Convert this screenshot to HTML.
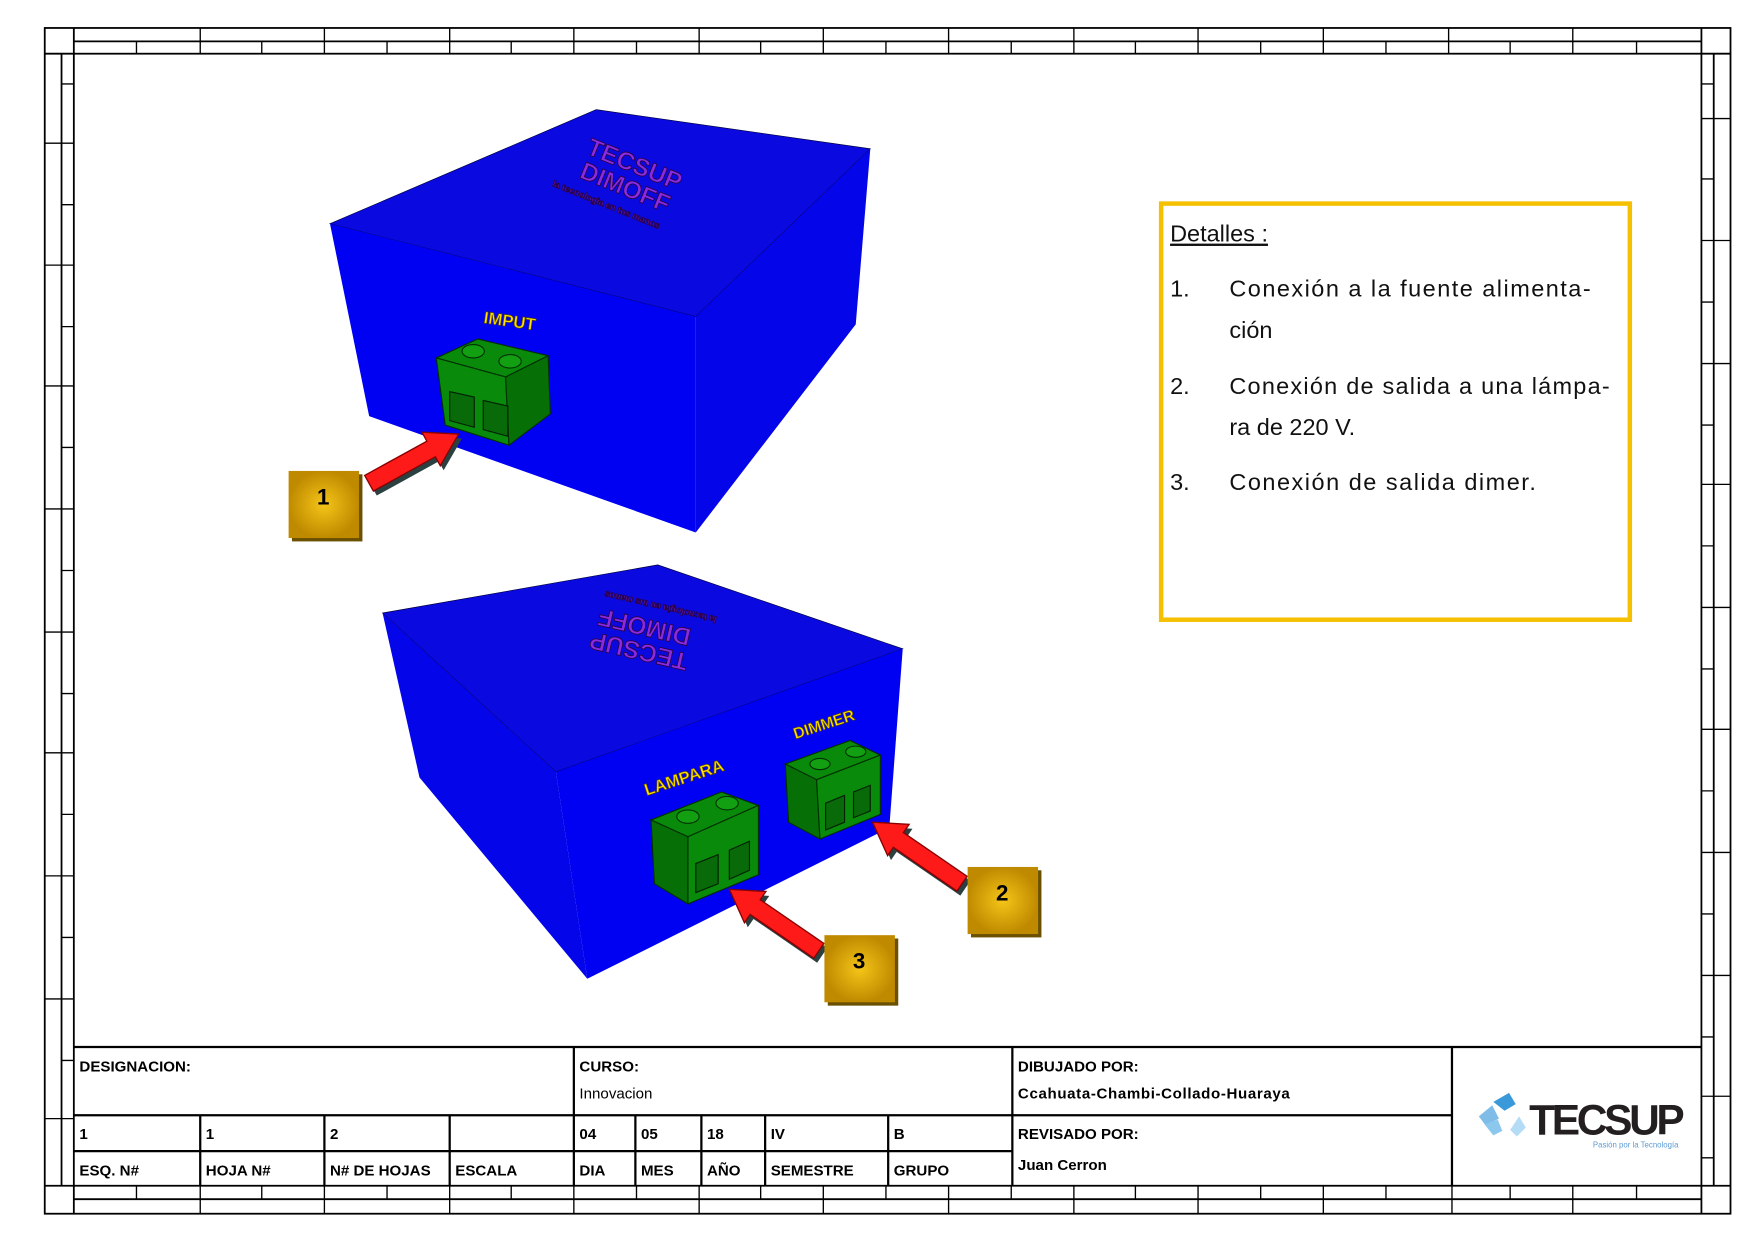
<!DOCTYPE html>
<html><head><meta charset="utf-8"><style>
html,body{margin:0;padding:0;background:#fff;}
svg{display:block;}
text{font-family:"Liberation Sans",sans-serif;}
</style></head><body>
<svg width="1754" height="1240" viewBox="0 0 1568 1108.5" preserveAspectRatio="none" xmlns="http://www.w3.org/2000/svg">
<rect width="1568" height="1108.5" fill="#fff"/>
<g stroke="#000" stroke-width="1.6" fill="none">
<rect x="40" y="25" width="1507" height="1060"/>
<rect x="66" y="48" width="1455" height="1012"/>
<line x1="66" y1="37" x2="1521" y2="37"/>
<line x1="66" y1="1072" x2="1521" y2="1072"/>
<line x1="55" y1="48" x2="55" y2="1060"/>
<line x1="1532" y1="48" x2="1532" y2="1060"/>
<line x1="66" y1="25" x2="66" y2="48"/><line x1="1521" y1="25" x2="1521" y2="48"/>
<line x1="66" y1="1060" x2="66" y2="1085"/><line x1="1521" y1="1060" x2="1521" y2="1085"/>
<line x1="40" y1="48" x2="66" y2="48"/><line x1="1521" y1="48" x2="1547" y2="48"/>
<line x1="40" y1="1060" x2="66" y2="1060"/><line x1="1521" y1="1060" x2="1547" y2="1060"/>
</g>
<g stroke="#000" stroke-width="1.2">
<path d="M179 25V48M290 25V48M402 25V48M513 25V48M625 25V48M736 25V48M848 25V48M960 25V48M1071 25V48M1183 25V48M1295 25V48M1406 25V48
M122 37V48M234 37V48M346 37V48M457 37V48M569 37V48M680 37V48M792 37V48M904 37V48M1015 37V48M1127 37V48M1239 37V48M1350 37V48M1463 37V48"/>
<path d="M179 1060V1085M290 1060V1085M402 1060V1085M513 1060V1085M625 1060V1085M736 1060V1085M848 1060V1085M960 1060V1085M1071 1060V1085M1183 1060V1085M1298 1060V1085M1406 1060V1085
M122 1060V1072M234 1060V1072M346 1060V1072M457 1060V1072M569 1060V1072M680 1060V1072M792 1060V1072M904 1060V1072M1015 1060V1072M1127 1060V1072M1239 1060V1072M1350 1060V1072M1463 1060V1072"/>
<path d="M55 75H66M40 128H66M55 183H66M40 237H66M55 292H66M40 345H66M55 400H66M40 455H66M55 510H66M40 565H66M55 620H66M40 673H66M55 728H66M40 783H66M55 838H66M40 893H66M55 948H66M40 1000H66"/>
<path d="M1521 75H1532M1521 106H1547M1521 160H1532M1521 215H1547M1521 270H1532M1521 325H1547M1521 380H1532M1521 433H1547M1521 488H1532M1521 543H1547M1521 598H1532M1521 652H1547M1521 707H1532M1521 762H1547M1521 817H1532M1521 872H1547M1521 927H1532M1521 980H1547M1521 1035H1532"/>
</g>
<g stroke="#000" stroke-width="2" fill="none">
<line x1="66" y1="936" x2="1521" y2="936"/>
<line x1="66" y1="997" x2="1298" y2="997"/>
<line x1="66" y1="1029" x2="905" y2="1029"/>
<line x1="513" y1="936" x2="513" y2="1060"/>
<line x1="905" y1="936" x2="905" y2="1060"/>
<line x1="1298" y1="936" x2="1298" y2="1060"/>
<path d="M179 997V1060M290 997V1060M402 997V1060M568 997V1060M627 997V1060M684 997V1060M794 997V1060"/>
</g>
<g font-size="13.5" font-weight="bold" fill="#000">
<text x="71" y="958">DESIGNACION:</text>
<text x="518" y="958">CURSO:</text>
<text x="518" y="982" font-weight="normal">Innovacion</text>
<text x="910" y="958">DIBUJADO POR:</text>
<text x="910" y="982" textLength="243">Ccahuata-Chambi-Collado-Huaraya</text>
<text x="910" y="1018">REVISADO POR:</text>
<text x="910" y="1046">Juan  Cerron</text>
<text x="71" y="1018">1</text><text x="184" y="1018">1</text><text x="295" y="1018">2</text>
<text x="518" y="1018">04</text><text x="573" y="1018">05</text><text x="632" y="1018">18</text><text x="689" y="1018">IV</text><text x="799" y="1018">B</text>
<text x="71" y="1051">ESQ. N#</text><text x="184" y="1051">HOJA N#</text><text x="295" y="1051">N# DE HOJAS</text><text x="407" y="1051">ESCALA</text>
<text x="518" y="1051">DIA</text><text x="573" y="1051">MES</text><text x="632" y="1051">AÑO</text><text x="689" y="1051">SEMESTRE</text><text x="799" y="1051">GRUPO</text>
</g>
<g>
<path d="M1335 985l14-8 6 10-10 6z" fill="#3a9ad9"/>
<path d="M1322 998l12-10 6 12-12 6z" fill="#7fbde8"/>
<path d="M1335 1015l-8-10 12-4 4 10z" fill="#8cc8ee"/>
<path d="M1350 1010l8-12 6 10-8 8z" fill="#b5dcf5"/>
<text x="1367" y="1014" font-size="38" font-weight="bold" fill="#231f20" letter-spacing="-3">TECSUP</text>
<text x="1424" y="1026" font-size="7" fill="#5a9bd4">Pasión por la Tecnología</text>
</g>
<!-- top box -->
<polygon points="295,200 533,98 778,133 622,283" fill="#0a0ae0" stroke="#000040" stroke-width="0.6"/>
<polygon points="295,200 622,283 622,476 330,372" fill="#0000f2"/>
<polygon points="622,283 778,133 765,290 622,476" fill="#0505ea"/>
<g transform="translate(560,165) rotate(22)" fill="#8a2be2" stroke="#2a004a" stroke-width="0.8" font-weight="bold" text-anchor="middle">
<text x="0" y="-12" font-size="22">TECSUP</text>
<text x="0" y="10" font-size="22">DIMOFF</text>
<text x="-10" y="26" font-size="8">la tecnologia en tus manos</text>
</g>
<text x="455" y="292" transform="rotate(8 455 292)" font-size="15" font-weight="bold" fill="#ffe000" stroke="#5a4a00" stroke-width="0.6" text-anchor="middle">IMPUT</text>
<polygon points="390,320 427,303 490,318 452,337" fill="#0a8a0a" stroke="#003000"/>
<polygon points="390,320 452,337 455,398 398,380" fill="#0a8a0a" stroke="#003000"/>
<polygon points="452,337 490,318 492,370 455,398" fill="#067006" stroke="#003000"/>
<ellipse cx="423" cy="314" rx="10" ry="6" fill="#12a012" stroke="#003000"/>
<ellipse cx="456" cy="323" rx="10" ry="6" fill="#12a012" stroke="#003000"/>
<polygon points="402,350 424,355 424,382 402,376" fill="#086a08" stroke="#002000"/>
<polygon points="432,358 454,363 454,390 432,384" fill="#086a08" stroke="#002000"/>
<!-- bottom box -->
<polygon points="342,548 588,505 807,580 497,690" fill="#0a0ae0" stroke="#000040" stroke-width="0.6"/>
<polygon points="342,548 497,690 525,875 375,695" fill="#0505ea"/>
<polygon points="497,690 807,580 795,740 525,875" fill="#0000f2"/>
<g transform="translate(575,565) rotate(193)" fill="#8a2be2" stroke="#2a004a" stroke-width="0.8" font-weight="bold" text-anchor="middle">
<text x="0" y="-10" font-size="22">TECSUP</text>
<text x="0" y="12" font-size="22">DIMOFF</text>
<text x="-10" y="28" font-size="8">la tecnologia en tus manos</text>
</g>
<text x="613" y="700" transform="rotate(-18 613 700)" font-size="15" font-weight="bold" fill="#ffe000" stroke="#5a4a00" stroke-width="0.6" text-anchor="middle">LAMPARA</text>
<text x="738" y="652" transform="rotate(-18 738 652)" font-size="14" font-weight="bold" fill="#ffe000" stroke="#5a4a00" stroke-width="0.6" text-anchor="middle">DIMMER</text>
<polygon points="582,733 645,708 678,720 615,748" fill="#0a8a0a" stroke="#003000"/>
<polygon points="582,733 615,748 615,808 585,790" fill="#067006" stroke="#003000"/>
<polygon points="615,748 678,720 678,782 615,808" fill="#0a8a0a" stroke="#003000"/>
<ellipse cx="615" cy="730" rx="10" ry="6" fill="#12a012" stroke="#003000"/>
<ellipse cx="650" cy="718" rx="10" ry="6" fill="#12a012" stroke="#003000"/>
<polygon points="622,772 642,764 642,790 622,798" fill="#086a08" stroke="#002000"/>
<polygon points="652,760 670,752 670,778 652,786" fill="#086a08" stroke="#002000"/>
<polygon points="702,683 760,662 787,675 730,697" fill="#0a8a0a" stroke="#003000"/>
<polygon points="702,683 730,697 733,750 705,735" fill="#067006" stroke="#003000"/>
<polygon points="730,697 787,675 787,728 733,750" fill="#0a8a0a" stroke="#003000"/>
<ellipse cx="733" cy="683" rx="9" ry="5" fill="#12a012" stroke="#003000"/>
<ellipse cx="765" cy="672" rx="9" ry="5" fill="#12a012" stroke="#003000"/>
<polygon points="738,718 755,711 755,735 738,742" fill="#086a08" stroke="#002000"/>
<polygon points="763,708 778,702 778,725 763,731" fill="#086a08" stroke="#002000"/>
<!-- arrows -->
<g stroke-width="1.2">
<polygon points="326,425 381.6,394.4 377.2,386.4 410,388 393.6,416.4 389.2,408.4 333.8,439" fill="#2b4040" transform="translate(3,4)"/>
<polygon points="326,425 381.6,394.4 377.2,386.4 410,388 393.6,416.4 389.2,408.4 333.8,439" fill="#ff1a1a" stroke="#800"/>
<g id="a2">
<polygon points="864.5,783.4 807.6,744.3 812.7,736.9 780,735 793.5,764.9 798.6,757.5 855.5,796.6" fill="#2b4040" transform="translate(3,4)"/>
<polygon points="864.5,783.4 807.6,744.3 812.7,736.9 780,735 793.5,764.9 798.6,757.5 855.5,796.6" fill="#ff1a1a" stroke="#800"/>
</g>
<g transform="translate(-128,60)">
<polygon points="864.5,783.4 807.6,744.3 812.7,736.9 780,735 793.5,764.9 798.6,757.5 855.5,796.6" fill="#2b4040" transform="translate(3,4)"/>
<polygon points="864.5,783.4 807.6,744.3 812.7,736.9 780,735 793.5,764.9 798.6,757.5 855.5,796.6" fill="#ff1a1a" stroke="#800"/>
</g>
</g>
<defs><radialGradient id="g"><stop offset="0" stop-color="#f5c518"/><stop offset="1" stop-color="#c08a00"/></radialGradient></defs>
<rect x="261" y="424" width="63" height="60" fill="#6a5000"/>
<rect x="258" y="421" width="63" height="60" fill="url(#g)"/>
<text x="289" y="451" font-size="20" font-weight="bold" text-anchor="middle">1</text>
<rect x="868" y="778" width="63" height="60" fill="#6a5000"/>
<rect x="865" y="775" width="63" height="60" fill="url(#g)"/>
<text x="896" y="805" font-size="20" font-weight="bold" text-anchor="middle">2</text>
<rect x="740" y="839" width="63" height="60" fill="#6a5000"/>
<rect x="737" y="836" width="63" height="60" fill="url(#g)"/>
<text x="768" y="866" font-size="20" font-weight="bold" text-anchor="middle">3</text>
<rect x="1038" y="182" width="419" height="372" fill="none" stroke="#f5c000" stroke-width="4"/>
<g font-size="21" fill="#111">
<text x="1046" y="216" text-decoration="underline">Detalles :</text>
<text x="1046" y="265">1.</text><text x="1099" y="265" textLength="323">Conexión a la fuente alimenta-</text>
<text x="1099" y="302">ción</text>
<text x="1046" y="352">2.</text><text x="1099" y="352" textLength="340">Conexión de salida a una lámpa-</text>
<text x="1099" y="389">ra de 220 V.</text>
<text x="1046" y="438">3.</text><text x="1099" y="438" textLength="274">Conexión de salida  dimer.</text>
</g>
</svg>
</body></html>
